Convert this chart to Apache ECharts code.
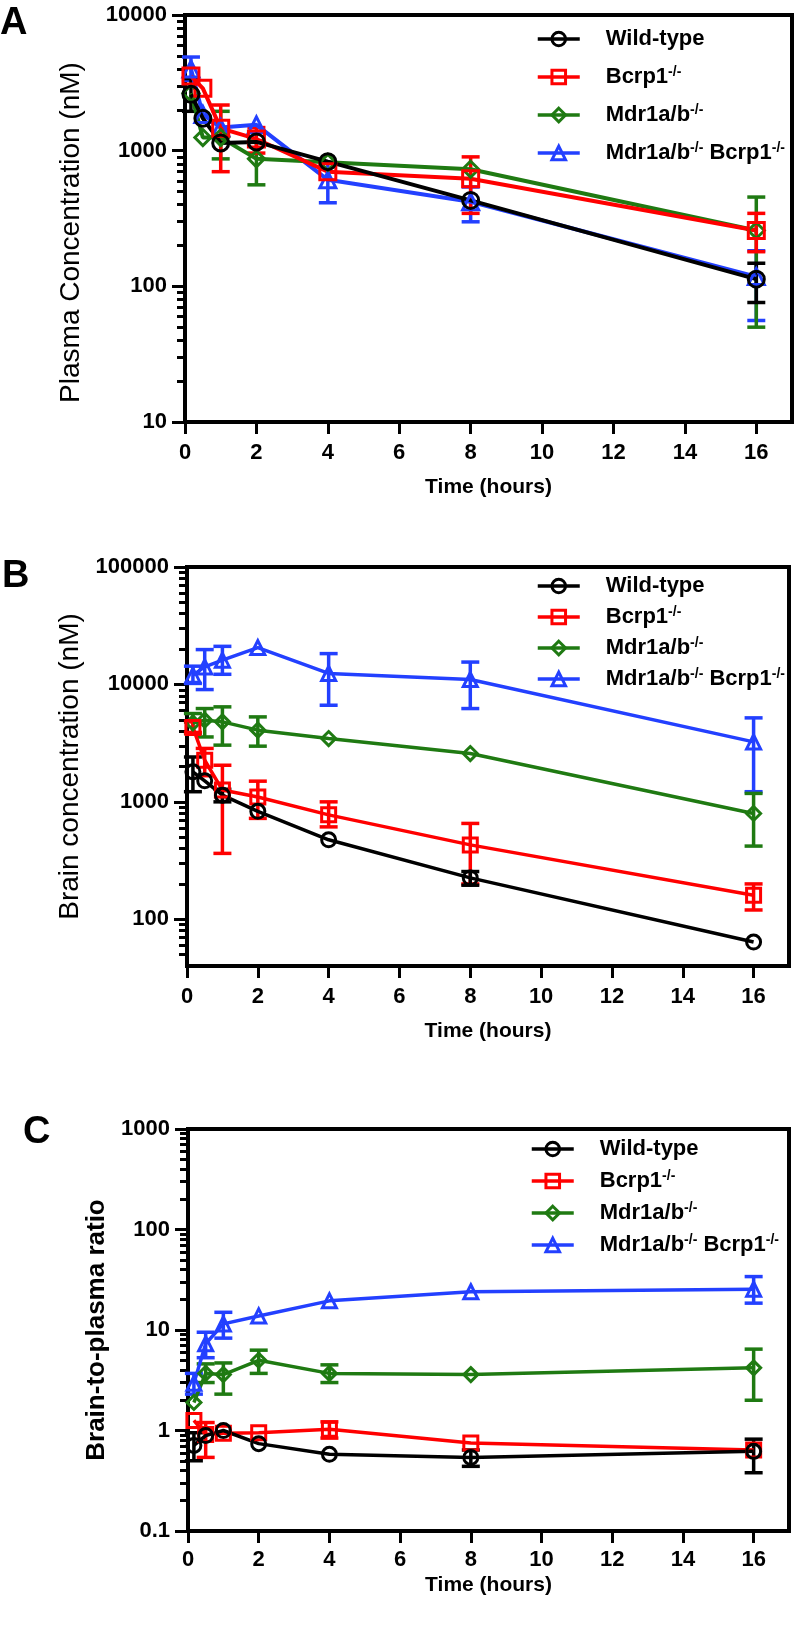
<!DOCTYPE html>
<html>
<head>
<meta charset="utf-8">
<script src="https://cdn.jsdelivr.net/npm/echarts@6.0.0/dist/echarts.min.js"></script>
<style>
  html, body { margin: 0; padding: 0; background: #fff; }
  #chart { width: 801px; height: 1627px; }
</style>
</head>
<body>
<div id="chart"></div>
<script>
// sampling times (hours) and x ticks
var timeHours = [0.167, 0.5, 1, 2, 4, 8, 16];
var timeTicks = [0, 2, 4, 6, 8, 10, 12, 14, 16];

var groupNames = ['Wild-type', 'Bcrp1-/-', 'Mdr1a/b-/-', 'Mdr1a/b-/- Bcrp1-/-'];
var groupColors = ['#000000', '#ff0000', '#1f7a12', '#2340ff'];
var groupSymbols = ['circle', 'rect', 'diamond', 'triangle'];

// A - plasma concentration (nM), SD as [low, high], null = bar hidden by symbol
var plasmaTicks = [10, 100, 1000, 10000];
var plasmaWildType = [2600, 1730, 1140, 1160, 830, 430, 113];
var plasmaWildTypeSD = [[1950, 3400], null, null, null, null, null, [76, 148]];
var plasmaBcrp1 = [3550, 2880, 1460, 1220, 700, 620, 258];
var plasmaBcrp1SD = [null, null, [700, 2170], [960, 1480], null, [345, 900], [180, 345]];
var plasmaMdr1 = [2650, 1250, 1250, 870, 820, 730, 258];
var plasmaMdr1SD = [null, null, [870, 1950], [560, 1180], null, null, [50, 455]];
var plasmaDouble = [4000, 1850, 1480, 1550, 610, 420, 118];
var plasmaDoubleSD = [[3300, 4900], null, null, null, [413, 810], [299, 540], [56, 183]];

// B - brain concentration (nM)
var brainTicks = [100, 1000, 10000, 100000];
var brainWildType = [1800, 1510, 1140, 830, 475, 225, 64];
var brainWildTypeSD = [[1220, 2410], null, [1000, 1280], null, null, [195, 255], null];
var brainBcrp1 = [4300, 2260, 1260, 1100, 775, 430, 160];
var brainBcrp1SD = [[3900, 4800], [1670, 2850], [364, 2050], [723, 1500], [612, 1000], [200, 655], [120, 200]];
var brainMdr1 = [4700, 4960, 4800, 4080, 3460, 2580, 796];
var brainMdr1SD = [[3840, 5650], [3570, 6230], [3040, 6440], [2980, 5290], null, null, [420, 1180]];
var brainDouble = [12000, 14100, 16100, 20600, 12400, 11000, 3240];
var brainDoubleSD = [[10200, 14300], [9040, 19800], [12200, 21100], null, [6650, 18300], [6230, 15500], [1220, 5190]];

// C - brain-to-plasma ratio
var ratioTicks = [0.1, 1, 10, 100, 1000];
var ratioWildType = [0.71, 0.89, 1.0, 0.74, 0.58, 0.54, 0.62];
var ratioWildTypeSD = [[0.5, 0.95], null, null, null, null, [0.44, 0.64], [0.38, 0.82]];
var ratioBcrp1 = [1.26, 0.91, 0.94, 0.95, 1.03, 0.75, 0.64];
var ratioBcrp1SD = [null, [0.54, 1.2], null, null, [0.84, 1.22], null, null];
var ratioMdr1 = [1.9, 3.7, 3.6, 5.0, 3.7, 3.6, 4.2];
var ratioMdr1SD = [null, [3.0, 4.6], [2.3, 4.7], [3.7, 6.3], [3.0, 4.5], null, [2.0, 6.45]];
var ratioDouble = [2.95, 7.3, 11.5, 13.8, 19.5, 24, 25.5];
var ratioDoubleSD = [[2.3, 3.7], [5.3, 9.5], [8.3, 15], null, null, null, [18.5, 34]];

var FONT = '"Liberation Sans", Arial, sans-serif';

var panels = [
    {
        letter: 'A', letterX: 0, letterY: 24,
        left: 185, top: 15, width: 607, height: 407,
        yMin: 10, yMax: 10000, yTicks: plasmaTicks,
        yName: 'Plasma Concentration (nM)', yNameWeight: 'normal', yNameSize: 28, yNameGap: 100, yNamePad: [0, 28, 0, 0],
        xLabelMargin: 20, xNameGap: 55,
        legendLeft: 531, legendTop: 23, legendGap: 15,
        symbolSize: 16, lineWidth: 4,
        means: [plasmaWildType, plasmaBcrp1, plasmaMdr1, plasmaDouble],
        sds: [plasmaWildTypeSD, plasmaBcrp1SD, plasmaMdr1SD, plasmaDoubleSD]
    },
    {
        letter: 'B', letterX: 2, letterY: 577,
        left: 187, top: 567, width: 602, height: 399,
        yMin: 40, yMax: 100000, yTicks: brainTicks,
        yName: 'Brain concentration (nM)', yNameWeight: 'normal', yNameSize: 28, yNameGap: 102, yNamePad: [0, 0, 0, 0],
        xLabelMargin: 20, xNameGap: 55,
        legendLeft: 531, legendTop: 570, legendGap: 8,
        symbolSize: 14, lineWidth: 3.5,
        means: [brainWildType, brainBcrp1, brainMdr1, brainDouble],
        sds: [brainWildTypeSD, brainBcrp1SD, brainMdr1SD, brainDoubleSD]
    },
    {
        letter: 'C', letterX: 23, letterY: 1133,
        left: 188, top: 1129, width: 601, height: 402,
        yMin: 0.1, yMax: 1000, yTicks: ratioTicks,
        yName: 'Brain-to-plasma ratio', yNameWeight: 'bold', yNameSize: 26, yNameGap: 59, yNamePad: [0, 0, 0, 0],
        xLabelMargin: 18, xNameGap: 44,
        legendLeft: 525, legendTop: 1133, legendGap: 9,
        symbolSize: 14, lineWidth: 3.5,
        means: [ratioWildType, ratioBcrp1, ratioMdr1, ratioDouble],
        sds: [ratioWildTypeSD, ratioBcrp1SD, ratioMdr1SD, ratioDoubleSD]
    }
];

// 2..9 x decade, for the short log ticks
function minorValues(lo, hi) {
    var out = [];
    for (var d = Math.pow(10, Math.floor(Math.log10(lo))); d < hi; d *= 10) {
        for (var k = 2; k <= 9; k++) {
            var v = +(k * d).toPrecision(6);
            if (v > lo && v < hi) out.push(v);
        }
    }
    return out;
}

function legendLabel(name) {
    var parts = name.split('-/-');
    var s = '';
    for (var i = 0; i < parts.length; i++) {
        if (parts[i]) s += '{m|' + parts[i] + '}';
        if (i < parts.length - 1) s += '{s|-/-}';
    }
    return s;
}

function errorBarRenderer(capHalf, width) {
    return function (params, api) {
        var t = api.value(0);
        var low = api.coord([t, api.value(1)]);
        var high = api.coord([t, api.value(2)]);
        var style = { stroke: api.visual('color'), lineWidth: width };
        return {
            type: 'group',
            children: [
                { type: 'line', shape: { x1: low[0], y1: low[1], x2: high[0], y2: high[1] }, style: style },
                { type: 'line', shape: { x1: low[0] - capHalf, y1: low[1], x2: low[0] + capHalf, y2: low[1] }, style: style },
                { type: 'line', shape: { x1: high[0] - capHalf, y1: high[1], x2: high[0] + capHalf, y2: high[1] }, style: style }
            ]
        };
    };
}

var option = {
    animation: false,
    backgroundColor: '#fff',
    grid: [], xAxis: [], yAxis: [], legend: [], series: [], graphic: []
};

panels.forEach(function (p, i) {
    option.grid.push({
        left: p.left, top: p.top, width: p.width, height: p.height,
        show: true, borderColor: '#000', borderWidth: 4
    });
    option.xAxis.push({
        gridIndex: i, type: 'value', min: 0, max: 17,
        name: 'Time (hours)', nameLocation: 'middle', nameGap: p.xNameGap,
        nameTextStyle: { fontFamily: FONT, fontSize: 21, fontWeight: 'bold', color: '#000' },
        axisLine: { lineStyle: { color: '#000', width: 4 } },
        axisTick: { customValues: timeTicks, length: 12, lineStyle: { color: '#000', width: 3 } },
        axisLabel: { customValues: timeTicks, margin: p.xLabelMargin, fontFamily: FONT, fontSize: 22, fontWeight: 'bold', color: '#000' },
        splitLine: { show: false }
    });
    option.yAxis.push({
        gridIndex: i, type: 'log', min: p.yMin, max: p.yMax, position: 'left',
        name: p.yName, nameLocation: 'middle', nameGap: p.yNameGap,
        nameTextStyle: { fontFamily: FONT, fontSize: p.yNameSize, fontWeight: p.yNameWeight, color: '#000', padding: p.yNamePad },
        axisLine: { lineStyle: { color: '#000', width: 4 } },
        axisTick: { customValues: p.yTicks, length: 13, lineStyle: { color: '#000', width: 3 } },
        axisLabel: {
            customValues: p.yTicks, margin: 18, fontFamily: FONT, fontSize: 22, fontWeight: 'bold', color: '#000',
            formatter: function (v) { return String(+(+v).toPrecision(6)); }
        },
        splitLine: { show: false }
    });
    // second log axis on the same side, only for the short minor ticks
    option.yAxis.push({
        gridIndex: i, type: 'log', min: p.yMin, max: p.yMax, position: 'left',
        axisLine: { show: false },
        axisLabel: { show: false },
        axisTick: { show: true, customValues: minorValues(p.yMin, p.yMax), length: 8, lineStyle: { color: '#000', width: 3 } },
        splitLine: { lineStyle: { color: 'rgba(0,0,0,0)' } }
    });
    option.legend.push({
        orient: 'vertical', left: p.legendLeft, top: p.legendTop,
        itemWidth: 42, itemHeight: 17, itemGap: p.legendGap,
        selectedMode: false,
        data: groupNames,
        formatter: legendLabel,
        lineStyle: { width: 3.5 },
        itemStyle: { borderWidth: 3 },
        textStyle: {
            color: '#000', padding: [0, 0, 0, 21],
            rich: {
                m: { fontFamily: FONT, fontSize: 22, fontWeight: 'bold', color: '#000', lineHeight: 24 },
                s: { fontFamily: FONT, fontSize: 14, fontWeight: 'bold', color: '#000', lineHeight: 12, verticalAlign: 'top' }
            }
        }
    });
    option.graphic.push({
        type: 'text', x: p.letterX, y: p.letterY,
        style: { text: p.letter, font: 'bold 38px ' + FONT, fill: '#000', verticalAlign: 'middle' }
    });

    // draw order: double KO at the bottom, wild-type on top
    [3, 2, 1, 0].forEach(function (g) {
        var bars = [];
        p.sds[g].forEach(function (sd, k) {
            if (sd) bars.push([timeHours[k], sd[0], sd[1]]);
        });
        option.series.push({
            type: 'custom', name: groupNames[g] + ' SD',
            xAxisIndex: i, yAxisIndex: 2 * i,
            itemStyle: { color: groupColors[g] },
            renderItem: errorBarRenderer(9, 3.5),
            encode: { x: 0, y: [1, 2] },
            data: bars,
            clip: false,
            silent: true
        });
        option.series.push({
            type: 'line', name: groupNames[g],
            xAxisIndex: i, yAxisIndex: 2 * i,
            symbol: groupSymbols[g], symbolSize: p.symbolSize,
            lineStyle: { color: groupColors[g], width: p.lineWidth },
            itemStyle: { color: 'transparent', borderColor: groupColors[g], borderWidth: 3 },
            data: timeHours.map(function (t, k) { return [t, p.means[g][k]]; }),
            silent: true
        });
    });
});

var chart = echarts.init(document.getElementById('chart'));
chart.setOption(option);
</script>
</body>
</html>
